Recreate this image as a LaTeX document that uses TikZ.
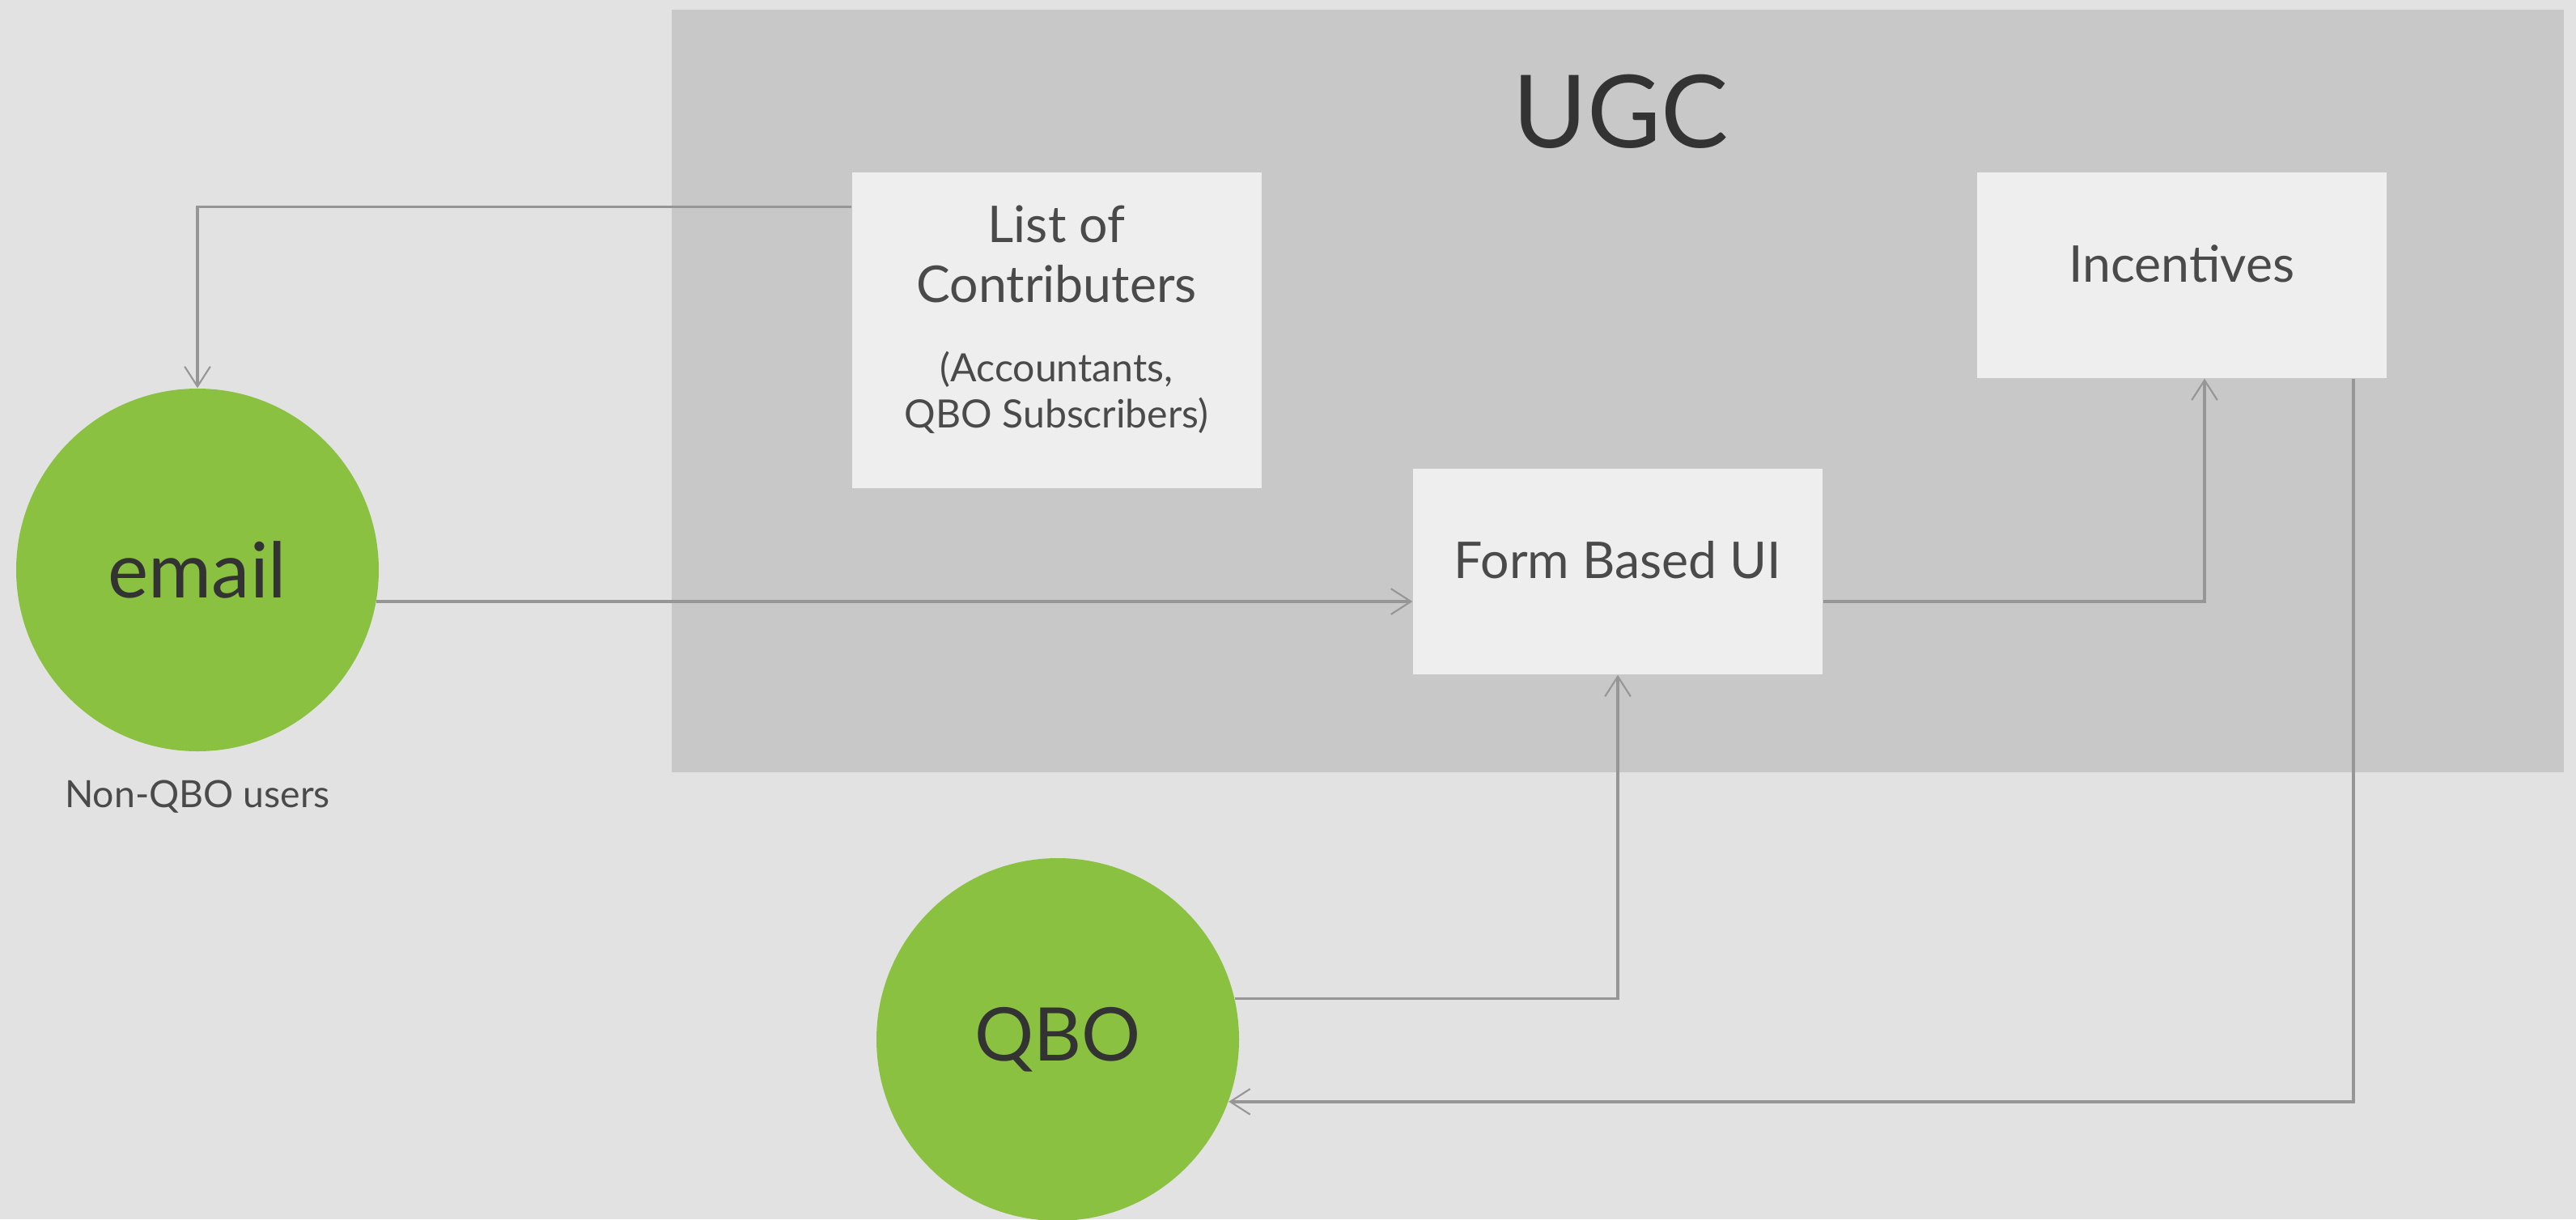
\documentclass[tikz,border=0pt]{standalone}
\usepackage{fontspec}
\setmainfont{Lato}
\usetikzlibrary{positioning,arrows.meta}

\begin{document}
\begin{tikzpicture}[
  card/.style={fill=cardbg, text=cardtext, minimum width=5.06cm, minimum height=2.54cm, inner sep=0pt, font=\fontsize{17.8}{21}\selectfont},
  cardlabel/.style={text=cardtext, align=center, inner sep=0pt},
  bubble/.style={circle, fill=bubblegreen, text=darktext, minimum size=4.48cm, inner sep=0pt},
  link/.style={draw=linegray, line width=1pt, -{Straight Barb[length=7pt,width=9pt,line width=0.6pt]}}
]
% Define colors
\definecolor{pagebg}{RGB}{226,226,226}
\definecolor{panelbg}{RGB}{200,200,200}
\definecolor{cardbg}{RGB}{238,238,238}
\definecolor{cardtext}{RGB}{74,74,74}
\definecolor{darktext}{RGB}{51,51,51}
\definecolor{bubblegreen}{RGB}{138,193,64}
\definecolor{linegray}{RGB}{150,150,150}

% Set background
\fill[pagebg] (0,0) rectangle (31.83,-15.06);
\useasboundingbox (0,0) rectangle (31.83,-15.06);

% UGC area
\fill[panelbg] (8.30,-0.12) rectangle (31.68,-9.54);
\node[text=darktext, font=\fontsize{35.5}{40}\selectfont] (ugc) at (20.03,-1.38) {UGC};

% Boxes inside the area
\node[card, minimum height=3.90cm] (list) at (13.055,-4.08) {};
\node[cardlabel, font=\fontsize{17.8}{21}\selectfont, below=0.41cm of list.north] (listtitle) {List of\\Contributers};
\node[cardlabel, font=\fontsize{13.7}{16.2}\selectfont, below=2.21cm of list.north] (listsub) {(Accountants,\\QBO Subscribers)};

\node[card, text depth=0.85em] (incentives) at (26.96,-3.40) {Incentives};
\node[card, text depth=0.85em] (form) at (19.99,-7.06) {Form Based UI};

% Sources
\node[bubble, font=\fontsize{27}{32}\selectfont] (email) at (2.44,-7.04) {email};
\node[text=cardtext, font=\fontsize{13.2}{16}\selectfont, below=0.23cm of email] (nonqbo) {Non-QBO users};
\node[bubble, font=\fontsize{26}{30}\selectfont] (qbo) at (13.07,-12.84) {QBO};

% Connectors
\draw[link] ([yshift=-0.43cm]list.north west) -| (email.north);
\draw[link] (email.-10) -- (email.-10 -| form.west);
\draw[link] (email.-10 -| form.east) -| ([xshift=0.28cm]incentives.south);
\draw[link] (qbo.13) -| (form.south);
\draw[link] ([xshift=2.12cm]incentives.south) |- (qbo.-20);

\end{tikzpicture}
\end{document}
